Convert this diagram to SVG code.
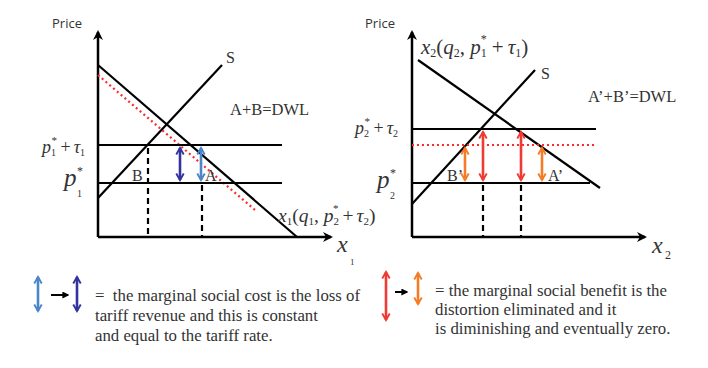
<svg xmlns="http://www.w3.org/2000/svg" width="708" height="368" viewBox="0 0 708 368">
<defs>
<style>
.ax{stroke:#000;stroke-width:2.5;fill:none}
.ln{stroke:#000;stroke-width:2.2;fill:none}
.dash{stroke:#000;stroke-width:2.2;stroke-dasharray:6,4;fill:none}
.dot{stroke:#ff2a2a;stroke-width:2.2;stroke-dasharray:2,3;fill:none}
.serif{font-family:"Liberation Serif","Times New Roman",serif;fill:#333}
.it{font-style:italic}
.sans{font-family:"Open Sans","DejaVu Sans",sans-serif;fill:#333;font-size:13px}
.db{stroke:#3333a0;stroke-width:2.6;fill:none}
.lb{stroke:#4a86c8;stroke-width:2.6;fill:none}
.rd{stroke:#ee3b33;stroke-width:2.6;fill:none}
.or{stroke:#f47c26;stroke-width:2.6;fill:none}
.leg{font-size:16.8px}
</style>
<marker id="mdb" viewBox="0 0 10 10" refX="8" refY="5" markerWidth="3.6" markerHeight="3.6" orient="auto-start-reverse"><path d="M1,1 L8,5 L1,9" fill="none" stroke="#3333a0" stroke-width="2"/></marker>
<marker id="mlb" viewBox="0 0 10 10" refX="8" refY="5" markerWidth="3.6" markerHeight="3.6" orient="auto-start-reverse"><path d="M1,1 L8,5 L1,9" fill="none" stroke="#4a86c8" stroke-width="2"/></marker>
<marker id="mrd" viewBox="0 0 10 10" refX="8" refY="5" markerWidth="3.6" markerHeight="3.6" orient="auto-start-reverse"><path d="M1,1 L8,5 L1,9" fill="none" stroke="#ee3b33" stroke-width="2"/></marker>
<marker id="mor" viewBox="0 0 10 10" refX="8" refY="5" markerWidth="3.6" markerHeight="3.6" orient="auto-start-reverse"><path d="M1,1 L8,5 L1,9" fill="none" stroke="#f47c26" stroke-width="2"/></marker>
<marker id="axh" viewBox="0 0 10 10" refX="8" refY="5" markerWidth="4" markerHeight="4" orient="auto"><path d="M0,0 L10,5 L0,10 L3,5 Z" fill="#000"/></marker>
<marker id="blk" viewBox="0 0 10 10" refX="8" refY="5" markerWidth="3.5" markerHeight="3.5" orient="auto"><path d="M0,0 L10,5 L0,10 Z" fill="#000"/></marker>
</defs>
<rect width="708" height="368" fill="#fff"/>

<!-- Left chart -->
<g id="left-chart">
<text class="sans" x="52" y="28">Price</text>
<path class="ax" d="M98,237 V32" marker-end="url(#axh)"/>
<path class="ax" d="M98,237 H331" marker-end="url(#axh)"/>
<path class="ln" d="M98,65 L297,237"/>
<path class="dot" d="M98,75 L255,210"/>
<path class="ln" d="M98,198 L222,65"/>
<text class="serif" x="226" y="63" font-size="16">S</text>
<path class="ln" d="M98,145 H282"/>
<path class="ln" d="M98,183 H282"/>
<path class="dash" d="M148,148 V237"/>
<path class="dash" d="M202,185 V237"/>
<text class="serif" x="230" y="115" font-size="16.5">A+B=DWL</text>
<text class="serif" x="132" y="181" font-size="16" fill="#555">B</text>
<text class="serif" x="205" y="181" font-size="16" fill="#555">A</text>
<text class="serif it" x="42" y="153" font-size="18">p<tspan font-size="10" font-style="normal" dy="3">1</tspan><tspan font-size="11" dx="-5" dy="-12">*</tspan><tspan dx="4" dy="9" font-style="normal">+</tspan><tspan dx="3">τ</tspan><tspan font-size="10" font-style="normal" dy="3">1</tspan></text>
<text class="serif it" x="64" y="186" font-size="25">p</text>
<text class="serif" x="77" y="197" font-size="10">1</text>
<text class="serif" x="77" y="175" font-size="12">*</text>
<text class="serif it" x="278" y="222" font-size="19.5">x<tspan font-size="11" font-style="normal" dy="3">1</tspan><tspan font-style="normal" dy="-3">(</tspan><tspan>q</tspan><tspan font-size="11" font-style="normal" dy="3">1</tspan><tspan font-style="normal" dy="-3">, </tspan><tspan>p</tspan><tspan font-size="11" font-style="normal" dy="3">2</tspan><tspan font-size="11" font-style="normal" dx="-6" dy="-13">*</tspan><tspan font-style="normal" dx="4" dy="10">+</tspan><tspan dx="3">τ</tspan><tspan font-size="11" font-style="normal" dy="3">2</tspan><tspan font-style="normal" dy="-3">)</tspan></text>
<text class="serif it" x="337" y="252" font-size="24">x</text>
<text class="serif" x="350" y="265" font-size="9">1</text>
</g>

<!-- Right chart -->
<g id="right-chart">
<text class="sans" x="365" y="28">Price</text>
<path class="ax" d="M412,237 V32" marker-end="url(#axh)"/>
<path class="ax" d="M412,237 H645" marker-end="url(#axh)"/>
<path class="ln" d="M418,60 L600,188"/>
<path class="ln" d="M412,204 L535,70"/>
<text class="serif" x="541" y="79" font-size="16">S</text>
<path class="ln" d="M412,129 H596"/>
<path class="dot" d="M412,145 H596"/>
<path class="ln" d="M412,183 H590"/>
<path class="dash" d="M483,185 V237"/>
<path class="dash" d="M521,185 V237"/>
<text class="serif" x="588" y="102" font-size="16.5">A’+B’=DWL</text>
<text class="serif" x="447" y="181" font-size="16" fill="#555">B’</text>
<text class="serif" x="548" y="181" font-size="16" fill="#555">A’</text>
<text class="serif it" x="355" y="134" font-size="18">p<tspan font-size="10" font-style="normal" dy="3">2</tspan><tspan font-size="11" dx="-5" dy="-12">*</tspan><tspan dx="4" dy="9" font-style="normal">+</tspan><tspan dx="3">τ</tspan><tspan font-size="10" font-style="normal" dy="3">2</tspan></text>
<text class="serif it" x="377" y="188" font-size="25">p</text>
<text class="serif" x="390" y="199" font-size="10">2</text>
<text class="serif" x="390" y="177" font-size="12">*</text>
<text class="serif it" x="421" y="54" font-size="21">x<tspan font-size="12" font-style="normal" dy="3">2</tspan><tspan font-style="normal" dy="-3">(</tspan><tspan>q</tspan><tspan font-size="12" font-style="normal" dy="3">2</tspan><tspan font-style="normal" dy="-3">, </tspan><tspan>p</tspan><tspan font-size="12" font-style="normal" dy="3">1</tspan><tspan font-size="12" font-style="normal" dx="-6" dy="-14">*</tspan><tspan font-style="normal" dx="5" dy="11">+</tspan><tspan dx="4">τ</tspan><tspan font-size="12" font-style="normal" dy="3">1</tspan><tspan font-style="normal" dy="-3">)</tspan></text>
<text class="serif it" x="652" y="253" font-size="24">x</text>
<text class="serif" x="665" y="259" font-size="12">2</text>
</g>

<!-- Connectors: double arrows -->
<g id="connectors">
<path class="db" d="M180,148 V180" marker-start="url(#mdb)" marker-end="url(#mdb)"/>
<path class="lb" d="M201,148 V180" marker-start="url(#mlb)" marker-end="url(#mlb)"/>
<path class="or" d="M465,148 V180" marker-start="url(#mor)" marker-end="url(#mor)"/>
<path class="rd" d="M483,132 V180" marker-start="url(#mrd)" marker-end="url(#mrd)"/>
<path class="rd" d="M521,132 V180" marker-start="url(#mrd)" marker-end="url(#mrd)"/>
<path class="or" d="M542,148 V180" marker-start="url(#mor)" marker-end="url(#mor)"/>
</g>

<!-- Legend left -->
<g id="legend-cost">
<path class="lb" d="M38,277 V311" marker-start="url(#mlb)" marker-end="url(#mlb)"/>
<path stroke="#000" stroke-width="2" d="M51,295 H68" marker-end="url(#blk)"/>
<path class="db" d="M77,277 V311" marker-start="url(#mdb)" marker-end="url(#mdb)"/>
<text class="serif leg" x="95" y="301">=&#160; the marginal social cost is the loss of</text>
<text class="serif leg" x="95" y="321">tariff revenue and this is constant</text>
<text class="serif leg" x="95" y="341">and equal to the tariff rate.</text>
</g>

<!-- Legend right -->
<g id="legend-benefit">
<path class="rd" d="M386,272 V320" marker-start="url(#mrd)" marker-end="url(#mrd)"/>
<path stroke="#000" stroke-width="2" d="M395,292 H407" marker-end="url(#blk)"/>
<path class="or" d="M418,273 V304" marker-start="url(#mor)" marker-end="url(#mor)"/>
<text class="serif leg" x="435" y="296">= the marginal social benefit is the</text>
<text class="serif leg" x="435" y="315">distortion eliminated and it</text>
<text class="serif leg" x="435" y="334">is diminishing and eventually zero.</text>
</g>
</svg>
